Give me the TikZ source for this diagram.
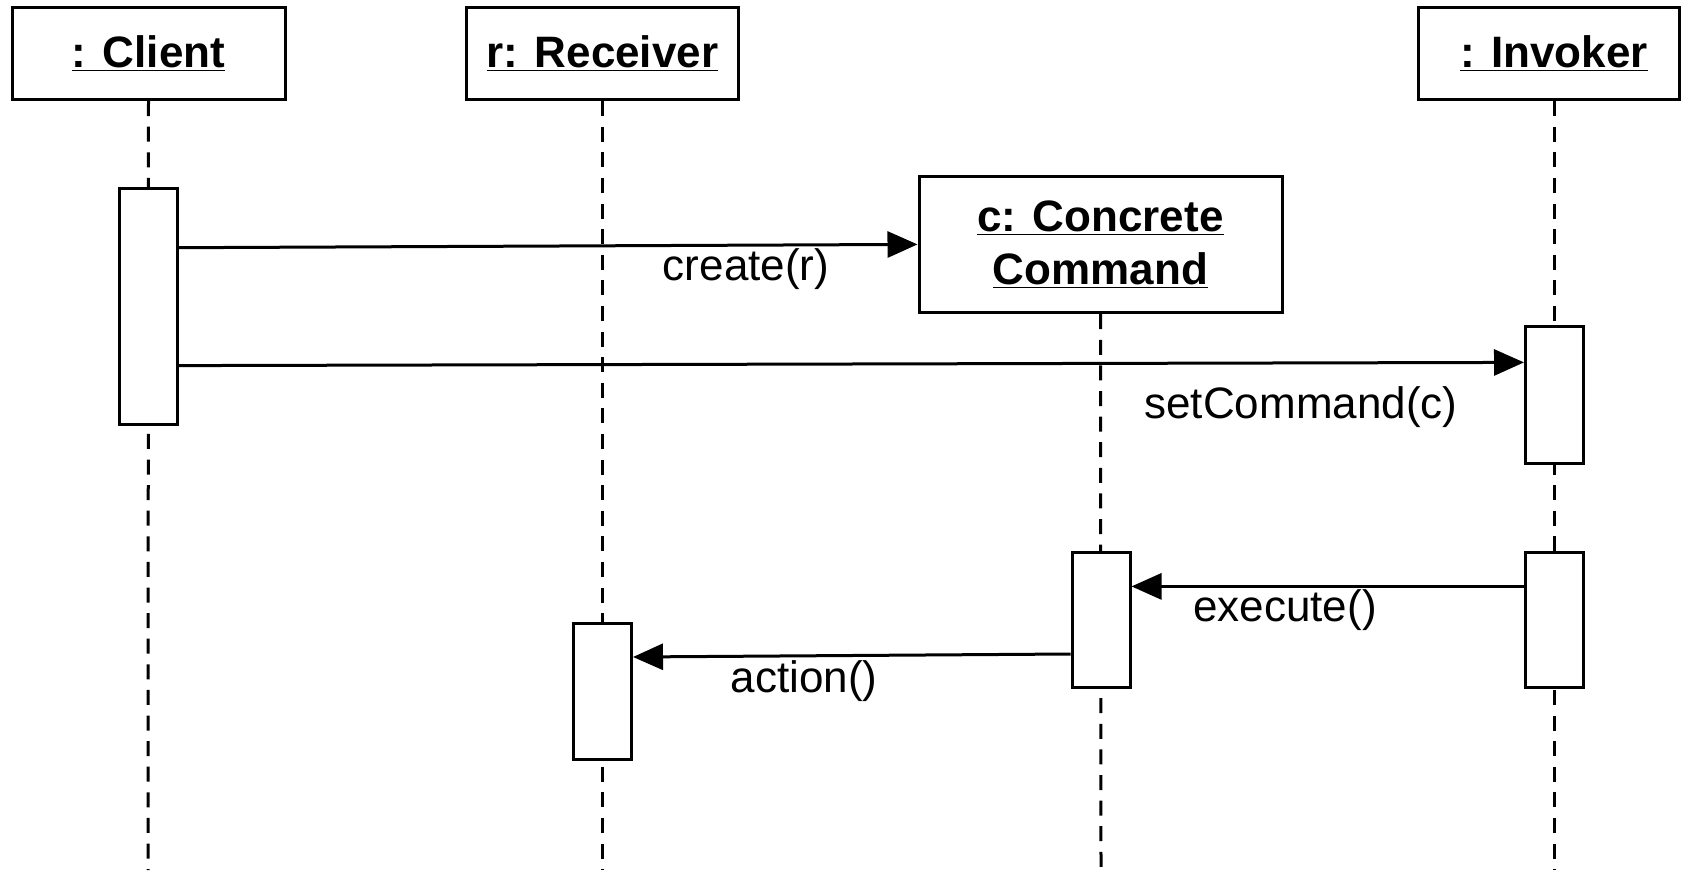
\documentclass[tikz,border=0pt]{standalone}
\usepackage{fontspec}
\setmainfont{Liberation Sans}
\usetikzlibrary{arrows.meta}
\tikzset{
  x=0.5pt, y=-0.5pt,
  every picture/.style={line width=1.5pt},
  objbox/.style={draw, fill=white, font=\fontsize{22}{26}\selectfont\bfseries,
    inner sep=0pt, align=center},
  actbox/.style={draw, fill=white, minimum width=29pt, inner sep=0pt},
  lifeline/.style={dash pattern=on 7.5pt off 5.3pt},
  msg/.style={-{Triangle[length=15pt,width=13pt]}},
  msglabel/.style={font=\fontsize{22}{26}\selectfont, inner sep=0pt}
}
\begin{document}
\begin{tikzpicture}
\useasboundingbox (0,0) rectangle (1681,872);

% object headers
\node[objbox, minimum width=136.5pt, minimum height=46pt] (client) at (148.5,53.6) {\underline{: Client}};
\node[objbox, minimum width=136pt, minimum height=46pt] (receiver) at (602.5,53.6) {\underline{r: Receiver}};
\node[objbox, minimum width=130.5pt, minimum height=46pt] (invoker) at (1549,53.6) {\hspace{5pt}\underline{: Invoker}};
\node[objbox, minimum width=181.5pt, minimum height=68pt, font=\fontsize{22}{26.3}\selectfont\bfseries] (cmd) at (1100.5,244.7)
  {\underline{c: Concrete}\\\underline{Command}};

% lifeline ends
\coordinate (clientEnd) at (148,870);
\coordinate (receiverEnd) at (602.5,870);
\coordinate (cmdEnd) at (1101,870);
\coordinate (invokerEnd) at (1554.5,870);

\draw[lifeline] (client.south) -- (clientEnd);
\draw[lifeline] (receiver.south) -- (receiverEnd);
\draw[lifeline] (cmd.south) -- (cmdEnd);
\draw[lifeline] (invokerEnd |- invoker.south) -- (invokerEnd);

% activation bars
\node[actbox, minimum height=118pt] (actClient) at (148,306.6) {};
\node[actbox, minimum height=68.5pt] (actInv1) at (1554.5,394.5) {};
\node[actbox, minimum height=67.5pt] (actInv2) at (1554.5,619.5) {};
\node[actbox, minimum height=67.5pt] (actCmd) at (1101,619.5) {};
\node[actbox, minimum height=68pt] (actRecv) at (602.5,691) {};

% messages
\draw[msg] (actClient.east |- 0,247.7) -- (cmd.west |- 0,244.4);
\node[msglabel] (lblCreate) at (746,269) {create(r)};

\draw[msg] (actClient.east |- 0,365.6) -- (actInv1.west |- 0,362.4);
\node[msglabel] (lblSet) at (1301,407) {setCommand(c)};

\draw[msg] (actInv2.west |- 0,586.4) -- (actCmd.east |- 0,586.4);
\node[msglabel] (lblExec) at (1285,610) {execute()};

\draw[msg] (actCmd.west |- 0,654) -- (actRecv.east |- 0,657);
\node[msglabel] (lblAction) at (804,681) {action()};
\end{tikzpicture}
\end{document}
